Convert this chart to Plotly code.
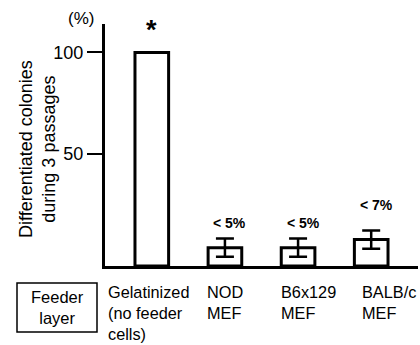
import plotly.graph_objects as go

# ---- data ----
categories = ["Gelatinized", "NOD MEF", "B6x129 MEF", "BALB/c MEF"]
values = [100, 4, 4, 8]
err_categories = ["NOD MEF", "B6x129 MEF", "BALB/c MEF"]
err_values = [4, 4, 8]
err_sizes = [4.5, 4.5, 4.5]
pct_labels = ["< 5%", "< 5%", "< 7%"]
cat_label_lines = [["Gelatinized", "(no feeder", "cells)"], ["NOD", "MEF"], ["B6x129", "MEF"], ["BALB/c", "MEF"]]
ytick_vals = [50, 100]
ytick_text = ["50", "100"]

W, H = 420, 345
L, R, T, B = 105, 2, 24, 79
Y_MIN, Y_MAX = -5, 114
FONT = "Liberation Sans, Arial, Helvetica, sans-serif"

def px(x):
    return (x - L) / (W - L - R)

def py(y):
    return (H - B - y) / (H - T - B)

fig = go.Figure()
fig.add_trace(go.Bar(
    x=list(range(len(categories))), y=[v - Y_MIN for v in values], base=Y_MIN,
    width=0.46, marker=dict(color="white", line=dict(color="black", width=3)),
    showlegend=False, hoverinfo="skip"))
fig.add_trace(go.Scatter(
    x=[categories.index(c) for c in err_categories], y=err_values, mode="markers",
    marker=dict(size=0.1, color="black"),
    error_y=dict(type="data", array=err_sizes, color="black", thickness=2.5, width=9),
    showlegend=False, hoverinfo="skip"))

ann = []
# asterisk
ann.append(dict(x=0, y=values[0], xref="x", yref="y", text="<b>*</b>", showarrow=False,
                xanchor="center", yanchor="bottom", yshift=5, font=dict(size=27, color="black", family=FONT)))
# percent labels
pct_shift = [6, 6, 15]
for c, v, e, t, s in zip(err_categories, err_values, err_sizes, pct_labels, pct_shift):
    ann.append(dict(x=categories.index(c), y=v + e, xref="x", yref="y", text="<b>%s</b>" % t,
                    showarrow=False, xanchor="center", yanchor="bottom", yshift=s, xshift=5,
                    font=dict(size=14, color="black", family=FONT)))
# (%)
ann.append(dict(x=px(81), y=py(19), xref="paper", yref="paper", text="(%)", showarrow=False,
                xanchor="center", yanchor="middle", font=dict(size=17, color="black", family=FONT)))
# axis title
ann.append(dict(x=px(37), y=py(149), xref="paper", yref="paper", textangle=-90,
                text="Differentiated colonies<br>during 3 passages", showarrow=False,
                xanchor="center", yanchor="middle", font=dict(size=18, color="black", family=FONT)))
# feeder layer box text
ann.append(dict(x=px(57), y=py(307), xref="paper", yref="paper", text="Feeder<br>layer", showarrow=False,
                xanchor="center", yanchor="middle", font=dict(size=16.5, color="black", family=FONT)))
# category labels
cat_x = [106, 205, 279, 360]
for lines, xx in zip(cat_label_lines, cat_x):
    ann.append(dict(x=px(xx), y=py(281), xref="paper", yref="paper", text="<br>".join(lines),
                    showarrow=False, xanchor="left", yanchor="top", align="left",
                    font=dict(size=16.3, color="black", family=FONT)))

fig.add_shape(type="rect", xref="paper", yref="paper", x0=px(17), x1=px(97), y0=py(332), y1=py(283),
              line=dict(color="black", width=1.5))

fig.update_layout(
    width=W, height=H, margin=dict(l=L, r=R, t=T, b=B, autoexpand=False),
    paper_bgcolor="white", plot_bgcolor="white", annotations=ann,
    font=dict(family=FONT, color="black"),
    xaxis=dict(range=[-0.64, 3.64], showline=True, linewidth=3, linecolor="black",
               showticklabels=False, ticks="", showgrid=False, zeroline=False, fixedrange=True,
               automargin=False),
    yaxis=dict(range=[Y_MIN, Y_MAX], showline=True, linewidth=3, linecolor="black",
               tickvals=ytick_vals, ticktext=ytick_text, ticks="outside", ticklen=15, tickwidth=2,
               tickcolor="black", tickfont=dict(size=18, color="black", family=FONT),
               showgrid=False, zeroline=False, fixedrange=True, automargin=False),
)
fig.write_html("out.html", config={"displayModeBar": False},
               post_script="document.body.style.margin='0';document.body.style.padding='0';")
